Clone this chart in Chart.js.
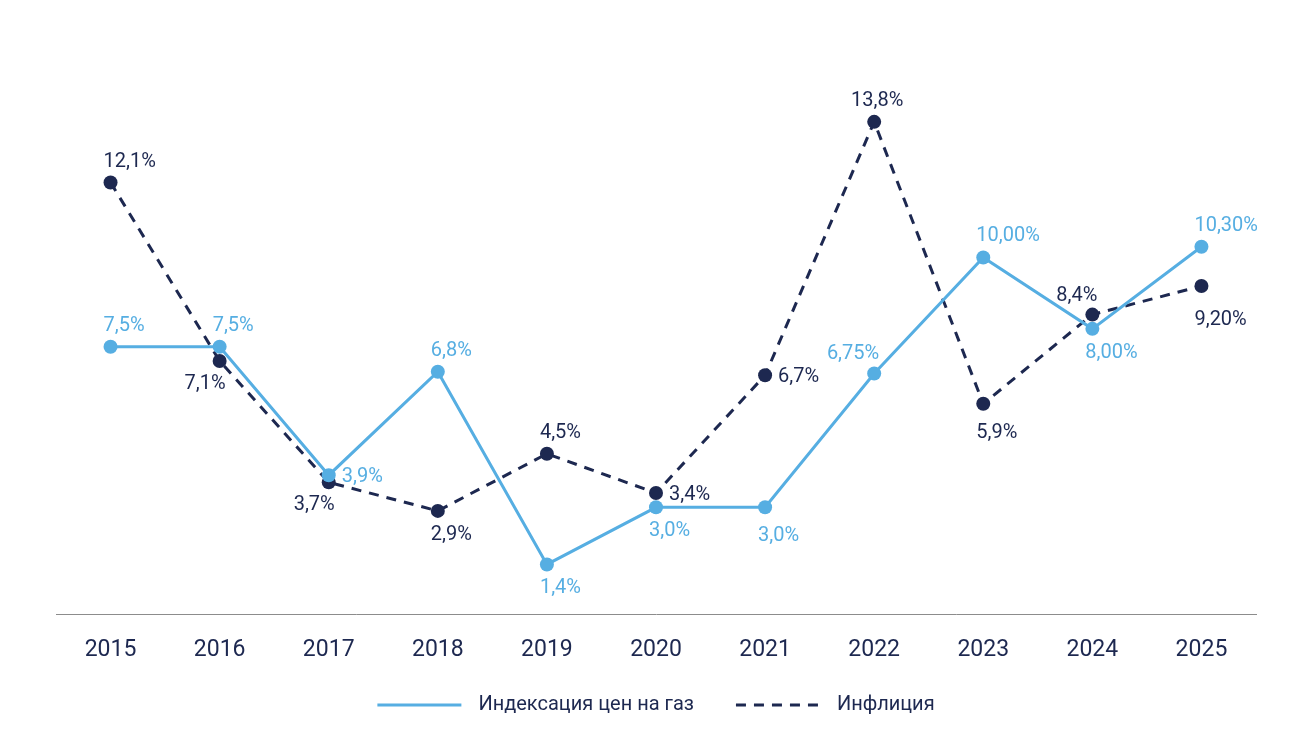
<!DOCTYPE html>
<html>
<head>
<meta charset="utf-8">
<script src="https://cdn.jsdelivr.net/npm/chart.js@4"></script>
<style>
    html, body { margin: 0; padding: 0; background: #fff; }
    #wrap { width: 1312px; height: 751px; position: relative; }
</style>
</head>
<body>
<div id="wrap"><canvas id="chart"></canvas></div>
<script>
const years = ['2015', '2016', '2017', '2018', '2019', '2020', '2021', '2022', '2023', '2024', '2025'];
const gasIndex = [7.5, 7.5, 3.9, 6.8, 1.4, 3.0, 3.0, 6.75, 10.0, 8.0, 10.3];
const gasLabels = ['7,5%', '7,5%', '3,9%', '6,8%', '1,4%', '3,0%', '3,0%', '6,75%', '10,00%', '8,00%', '10,30%'];
const inflation = [12.1, 7.1, 3.7, 2.9, 4.5, 3.4, 6.7, 13.8, 5.9, 8.4, 9.2];
const inflationLabels = ['12,1%', '7,1%', '3,7%', '2,9%', '4,5%', '3,4%', '6,7%', '13,8%', '5,9%', '8,4%', '9,20%'];
const seriesNames = ['Индексация цен на газ', 'Инфлиция'];

const LIGHT = '#56aee2';
const NAVY = '#1d2850';
const FONT = 'Roboto';

// where each value label sits relative to its point
const places = {
    up:       { align: 'left',   dx: -7, dy: -21 },
    down:     { align: 'left',   dx: -7, dy: 24 },
    downFar:  { align: 'left',   dx: -7, dy: 29 },
    downMore: { align: 'left',   dx: -7, dy: 34 },
    upLeft:   { align: 'right',  dx: 5,  dy: -19 },
    downLeft: { align: 'right',  dx: 6,  dy: 23 },
    right:    { align: 'left',   dx: 13, dy: 2 },
    upCenter: { align: 'center', dx: 3,  dy: -21 }
};
const gasPlaces = ['up', 'up', 'right', 'up', 'down', 'down', 'downFar', 'upLeft', 'up', 'down', 'up'];
const inflationPlaces = ['up', 'downLeft', 'downLeft', 'down', 'up', 'right', 'right', 'upCenter', 'downFar', 'upLeft', 'downMore'];

const valueLabels = {
    id: 'valueLabels',
    afterDatasetsDraw(chart) {
        const ctx = chart.ctx;
        ctx.save();
        ctx.font = '20px ' + FONT;
        ctx.textBaseline = 'middle';
        chart.data.datasets.forEach((ds, i) => {
            const meta = chart.getDatasetMeta(i);
            meta.data.forEach((pt, j) => {
                const p = places[ds.labelPlaces[j]];
                ctx.fillStyle = ds.borderColor;
                ctx.textAlign = p.align;
                ctx.fillText(ds.valueTexts[j], pt.x + p.dx, pt.y + p.dy);
            });
        });
        ctx.restore();
    }
};

// legend drawn by hand so the spacing matches the picture
const lineLegend = {
    id: 'lineLegend',
    afterDraw(chart) {
        const ctx = chart.ctx;
        const sample = 84, textGap = 17, itemGap = 42, y = 705;
        ctx.save();
        ctx.font = '20px ' + FONT;
        ctx.textBaseline = 'middle';
        ctx.textAlign = 'left';
        const widths = chart.data.datasets.map(ds => ctx.measureText(ds.label).width);
        let total = 0;
        widths.forEach((w, i) => { total += sample + textGap + w + (i > 0 ? itemGap : 0); });
        let x = (chart.width - total) / 2;
        chart.data.datasets.forEach((ds, i) => {
            ctx.beginPath();
            ctx.strokeStyle = ds.borderColor;
            ctx.lineWidth = ds.borderWidth;
            ctx.setLineDash(ds.borderDash || []);
            ctx.moveTo(x, y);
            ctx.lineTo(x + sample, y);
            ctx.stroke();
            ctx.setLineDash([]);
            ctx.fillStyle = NAVY;
            ctx.fillText(ds.label, x + sample + textGap, y);
            x += sample + textGap + widths[i] + itemGap;
        });
        ctx.restore();
    }
};

new Chart(document.getElementById('chart'), {
    type: 'line',
    data: {
        labels: years,
        datasets: [
            {
                label: seriesNames[0],
                data: gasIndex,
                valueTexts: gasLabels,
                labelPlaces: gasPlaces,
                borderColor: LIGHT,
                backgroundColor: LIGHT,
                borderWidth: 3,
                pointRadius: 7,
                pointBorderWidth: 0,
                pointBackgroundColor: LIGHT,
                pointHoverRadius: 7,
                tension: 0
            },
            {
                label: seriesNames[1],
                data: inflation,
                valueTexts: inflationLabels,
                labelPlaces: inflationPlaces,
                borderColor: NAVY,
                backgroundColor: NAVY,
                borderWidth: 3,
                borderDash: [10, 8],
                pointRadius: 7,
                pointBorderWidth: 0,
                pointBackgroundColor: NAVY,
                pointHoverRadius: 7,
                tension: 0
            }
        ]
    },
    plugins: [valueLabels, lineLegend],
    options: {
        responsive: true,
        maintainAspectRatio: false,
        animation: false,
        layout: {
            padding: { top: 79, left: 56, right: 56, bottom: 65 }
        },
        plugins: {
            legend: { display: false },
            tooltip: { enabled: false }
        },
        scales: {
            x: {
                offset: true,
                grid: { display: false, drawTicks: false },
                border: { display: true, color: '#8c8c8c', width: 1 },
                ticks: {
                    color: NAVY,
                    padding: 22,
                    font: { family: FONT, size: 23 }
                }
            },
            y: {
                display: false,
                min: 0,
                max: 15
            }
        }
    }
});
</script>
</body>
</html>
